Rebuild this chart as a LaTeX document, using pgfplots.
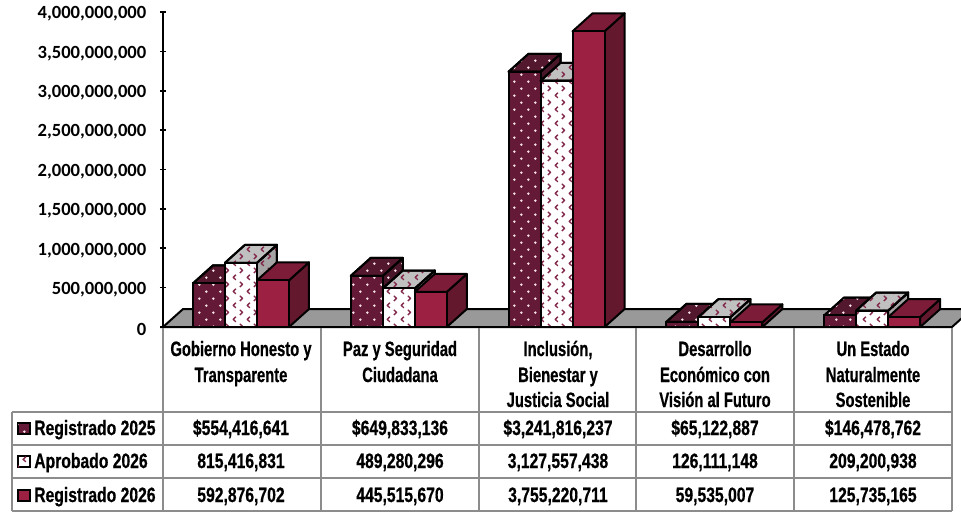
\documentclass[border=0pt]{standalone}
\usepackage{fontspec}
\usepackage{pgfplots}
\pgfplotsset{compat=1.18}
\usetikzlibrary{patterns}
\newfontfamily\agency[FakeStretch=0.71,BoldFeatures={FakeBold=0.6}]{Liberation Sans}
\newfontfamily\agencywide[FakeStretch=0.755,BoldFeatures={FakeBold=0.6}]{Liberation Sans}
\newfontfamily\tickfont{Carlito}
\definecolor{regA}{RGB}{100,26,54}
\definecolor{regAside}{RGB}{72,22,40}
\definecolor{regAtop}{RGB}{84,24,46}
\definecolor{regB}{RGB}{155,32,66}
\definecolor{regBside}{RGB}{100,24,46}
\definecolor{regBtop}{RGB}{124,28,56}
\definecolor{aprSide}{RGB}{165,165,165}
\definecolor{aprTop}{RGB}{192,192,192}
\definecolor{floorgray}{RGB}{153,153,153}
\definecolor{tablegray}{RGB}{140,140,140}
\definecolor{chevcol}{RGB}{130,40,75}
\definecolor{dotcol}{RGB}{248,225,232}
\pgfdeclarepatternformonly{wdots}{\pgfpoint{-1pt}{-1pt}}{\pgfpoint{11.5pt}{11.5pt}}{\pgfpoint{10.5pt}{10.5pt}}{
  \pgfpathcircle{\pgfpoint{2.5pt}{2.5pt}}{1.05pt}
  \pgfpathcircle{\pgfpoint{7.75pt}{7.75pt}}{1.05pt}
  \pgfusepath{fill}}
\pgfdeclarepatternformonly{chev}{\pgfpoint{-1pt}{-1pt}}{\pgfpoint{11.5pt}{11.5pt}}{\pgfpoint{10.5pt}{10.5pt}}{
  \pgfsetlinewidth{1pt}
  \pgfpathmoveto{\pgfpoint{1.4pt}{4.6pt}}\pgfpathlineto{\pgfpoint{3.4pt}{2.7pt}}\pgfpathlineto{\pgfpoint{1.4pt}{0.8pt}}
  \pgfpathmoveto{\pgfpoint{8.9pt}{9.9pt}}\pgfpathlineto{\pgfpoint{6.9pt}{8pt}}\pgfpathlineto{\pgfpoint{8.9pt}{6.1pt}}
  \pgfusepath{stroke}}
\tikzset{
  face/.style={draw=black, line width=1.5pt, line join=round, no marks},
  dotted face/.style={face, fill=#1, postaction={pattern=wdots, pattern color=dotcol}},
  chev face/.style={face, fill=#1, postaction={pattern=chev, pattern color=chevcol}},
  solid face/.style={face, fill=#1},
}
% one bar: left edge (in categories), value, styles of front, side and top
\newcommand{\barthree}[5]{%
  \pgfmathsetmacro{\xr}{#1+0.2028}%
  \pgfmathsetmacro{\xla}{#1+0.1267}%
  \pgfmathsetmacro{\xra}{\xr+0.1267}%
  \begingroup\pgfkeys{/pgf/fpu,/pgf/fpu/output format=fixed}%
  \pgfmathparse{#2+228000000}\xdef\vb{\pgfmathresult}%
  \pgfmathparse{228000000}\xdef\db{\pgfmathresult}\endgroup
  \addplot[#4] coordinates {(\xr,0) (\xr,#2) (\xra,\vb) (\xra,\db)} --cycle;
  \addplot[#5] coordinates {(#1,#2) (\xr,#2) (\xra,\vb) (\xla,\vb)} --cycle;
  \addplot[#3] coordinates {(#1,0) (#1,#2) (\xr,#2) (\xr,0)} --cycle;
}
\newcommand{\bargroup}[4]{%
  \pgfmathsetmacro{\xa}{#1+0.19}%
  \pgfmathsetmacro{\xb}{#1+0.3928}%
  \pgfmathsetmacro{\xc}{#1+0.5956}%
  \barthree{\xa}{#2}{dotted face=regA}{dotted face=regAside}{dotted face=regAtop}
  \barthree{\xb}{#3}{chev face=white}{chev face=aprSide}{chev face=aprTop}
  \barthree{\xc}{#4}{solid face=regB}{solid face=regBside}{solid face=regBtop}
}
\newcommand{\cat}{\fontsize{15.6}{18.75}\selectfont\agency\bfseries}
\newcommand{\cell}{\fontsize{15.6}{18.75}\selectfont\agencywide\bfseries}
\begin{document}
\begin{tikzpicture}
\path[use as bounding box] (0,0) rectangle (720.75pt,-384pt);
\begin{axis}[
  at={(122.25pt,-245.25pt)}, anchor=south west, scale only axis,
  width=591.75pt, height=236.25pt,
  xmin=0, xmax=5, ymin=0, ymax=4000000000, clip=false,
  axis lines=left, axis line style={black, line width=1.5pt, -},
  hide x axis,
  xtick=\empty,
  ytick={0,500000000,...,4000000000},
  scaled y ticks=false,
  ytick style={black, line width=1.2pt},
  tickwidth=4.5pt,
  ticklabel style={font=\fontsize{13.95}{16}\selectfont\tickfont\bfseries},
  yticklabel style={xshift=-6.75pt, yshift=-1.5pt, /pgf/number format/.cd, fixed, precision=0, 1000 sep={,}, assume math mode=true},
]
% floor
\addplot[draw=black, line width=1.5pt, fill=floorgray, no marks] coordinates {(0,0) (0.1267,228000000) (5.1267,228000000) (5,0)} --cycle;
\bargroup{0}{554416641}{815416831}{592876702}
\bargroup{1}{649833136}{489280296}{445515670}
\bargroup{2}{3241816237}{3127557438}{3755220711}
\bargroup{3}{65122887}{126111148}{59535007}
\bargroup{4}{146478762}{209200938}{125735165}
\end{axis}
\begin{scope}[x=0.75pt,y=-0.75pt]
% data table
\begin{scope}[tablegray, line width=1.5pt]
\draw (163,328) -- (163,511);
\foreach \x in {321,479,636,794,952} \draw (\x,328) -- (\x,511);
\draw (12,412) -- (12,511);
\foreach \y in {412,445,478,511} \draw (12,\y) -- (952,\y);
\end{scope}
\foreach \x/\a/\b in {
  241/Gobierno Honesto y/Transparente,
  400/Paz y Seguridad/Ciudadana}
  {\node[font=\cat, anchor=base] at (\x,356) {\a};
   \node[font=\cat, anchor=base] at (\x,382) {\b};}
\foreach \x/\a/\b/\c in {
  558/{Inclusión,}/Bienestar y/Justicia Social,
  715/Desarrollo/Económico con/Visión al Futuro,
  873/Un Estado/Naturalmente/Sostenible}
  {\node[font=\cat, anchor=base] at (\x,356) {\a};
   \node[font=\cat, anchor=base] at (\x,382) {\b};
   \node[font=\cat, anchor=base] at (\x,407) {\c};}
\foreach \x/\a/\b/\c in {
  241/{\$554,416,641}/{815,416,831}/{592,876,702},
  400/{\$649,833,136}/{489,280,296}/{445,515,670},
  558/{\$3,241,816,237}/{3,127,557,438}/{3,755,220,711},
  715/{\$65,122,887}/{126,111,148}/{59,535,007},
  873/{\$146,478,762}/{209,200,938}/{125,735,165}}
  {\node[font=\cell, anchor=base] at (\x,435) {\a};
   \node[font=\cell, anchor=base] at (\x,468) {\b};
   \node[font=\cell, anchor=base] at (\x,502) {\c};}
% legend keys in the table
\node[font=\cell, anchor=base west, inner sep=0pt] at (34,435) {Registrado 2025};
\node[font=\cell, anchor=base west, inner sep=0pt] at (34,468) {Aprobado 2026};
\node[font=\cell, anchor=base west, inner sep=0pt] at (34,502) {Registrado 2026};
\draw[black, line width=1.5pt, fill=regA, postaction={pattern=wdots, pattern color=dotcol}] (18,423) rectangle (30,434);
\draw[black, line width=1.5pt, fill=white, postaction={pattern=chev, pattern color=chevcol}] (18,456) rectangle (30,467);
\draw[black, line width=1.5pt, fill=regB] (18,490) rectangle (30,501);
\end{scope}
\end{tikzpicture}
\end{document}
